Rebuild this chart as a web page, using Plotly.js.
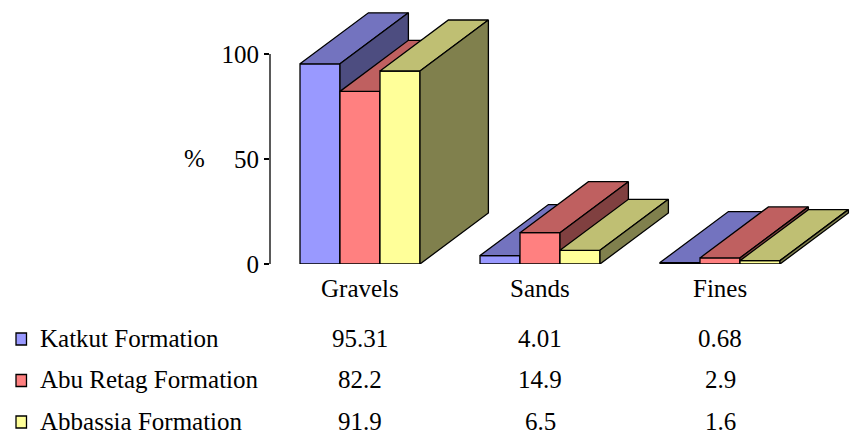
<!DOCTYPE html>
<html>
<head>
<meta charset="utf-8">
<script src="https://cdn.plot.ly/plotly-3.0.1.min.js"></script>
<style>
  html, body { margin: 0; padding: 0; background: #ffffff; }
  #chart { width: 851px; height: 436px; }
  #chart svg text { font-family: 'Liberation Serif', 'Times New Roman', serif !important; }
</style>
</head>
<body>
<div id="chart"></div>
<script>
// Grain-size composition (%) of three formations
const categories = ['Gravels', 'Sands', 'Fines'];
const seriesNames = ['Katkut Formation', 'Abu Retag Formation', 'Abbassia Formation'];
const katkut   = [95.31, 4.01, 0.68];
const abuRetag = [82.2, 14.9, 2.9];
const abbassia = [91.9, 6.5, 1.6];
const yTicks = [0, 50, 100];

const seriesValues = [katkut, abuRetag, abbassia];

// face colours: front, top, side (shaded)
const faceColors = [
  ['#9999ff', '#7373bf', '#4d4d80'],
  ['#ff8080', '#bf6060', '#804040'],
  ['#ffff99', '#bfbf73', '#80804d']
];

// pseudo-3D geometry in axis units
const BAR_W = 0.2222;       // width of one column
const GROUP_LEFT = -0.3333; // left edge of a cluster relative to category centre
const DEPTH_X = 0.38;       // receding offset along x
const DEPTH_Y = 24.3;       // receding offset along y

// plot area in pixels (one category = 180 px)
const M = { l: 270, r: 0, t: 2, b: 172 };
const PW = 851 - M.l - M.r, PH = 436 - M.t - M.b;
const CAT_PX = 180;
const YMAX = PH / 2.1;
const toPaperX = x => (x - M.l) / PW;
const toPaperY = y => (436 - M.b - y) / PH;

function textFont() {
  return { family: 'Liberation Serif', size: 25, color: '#000000' };
}

const traces = [];
function face(xs, ys, color) {
  traces.push({
    type: 'scatter', mode: 'lines', x: xs, y: ys,
    fill: 'toself', fillcolor: color,
    line: { color: '#000000', width: 1.3 },
    hoverinfo: 'skip', showlegend: false
  });
}

categories.forEach((cat, c) => {
  seriesValues.forEach((vals, s) => {
    const v = vals[c];
    const x0 = c + GROUP_LEFT + s * BAR_W;
    const x1 = x0 + BAR_W;
    const [fc, tc, sc] = faceColors[s];
    // front
    face([x0, x1, x1, x0, x0], [0, 0, v, v, 0], fc);
    // top
    face([x0, x1, x1 + DEPTH_X, x0 + DEPTH_X, x0], [v, v, v + DEPTH_Y, v + DEPTH_Y, v], tc);
    // side
    face([x1, x1 + DEPTH_X, x1 + DEPTH_X, x1, x1], [0, DEPTH_Y, v + DEPTH_Y, v, 0], sc);
  });
});

const annotations = [];
const shapes = [];

// value axis line, 0..100
shapes.push({ type: 'line', xref: 'paper', yref: 'y', x0: 0, x1: 0, y0: 0, y1: 100,
  line: { color: '#000000', width: 1.3 } });

// "%" axis label
annotations.push({ xref: 'paper', yref: 'paper', x: toPaperX(194), y: toPaperY(158),
  text: '%', showarrow: false, xanchor: 'center', yanchor: 'middle', font: textFont() });

// category labels
categories.forEach((cat, c) => {
  annotations.push({ xref: 'x', yref: 'paper', x: c, y: toPaperY(288),
    text: cat, showarrow: false, xanchor: 'center', yanchor: 'middle', font: textFont() });
});

// data table with legend keys
const rowCenters = [338, 379.5, 421];
seriesNames.forEach((name, s) => {
  const yc = rowCenters[s];
  shapes.push({ type: 'rect', xref: 'paper', yref: 'paper',
    x0: toPaperX(16), x1: toPaperX(26.5), y0: toPaperY(yc - 5), y1: toPaperY(yc + 7),
    fillcolor: faceColors[s][0], line: { color: '#000000', width: 1.3 } });
  annotations.push({ xref: 'paper', yref: 'paper', x: toPaperX(38), y: toPaperY(yc),
    text: name, showarrow: false, xanchor: 'left', yanchor: 'middle', font: textFont() });
  seriesValues[s].forEach((v, c) => {
    annotations.push({ xref: 'x', yref: 'paper', x: c, y: toPaperY(yc),
      text: String(v), showarrow: false, xanchor: 'center', yanchor: 'middle', font: textFont() });
  });
});

const layout = {
  width: 851, height: 436,
  margin: M,
  font: textFont(),
  paper_bgcolor: '#ffffff', plot_bgcolor: '#ffffff',
  showlegend: false,
  xaxis: { range: [-0.5, -0.5 + PW / CAT_PX], visible: false, fixedrange: true },
  yaxis: {
    range: [0, YMAX], tickvals: yTicks, ticktext: yTicks.map(String),
    showgrid: false, zeroline: false, showline: false,
    ticks: 'outside', ticklen: 5, tickwidth: 1.3, tickcolor: '#000000',
    tickfont: textFont(),
    fixedrange: true
  },
  shapes: shapes,
  annotations: annotations
};

Plotly.newPlot('chart', traces, layout, { displayModeBar: false, staticPlot: true });
</script>
</body>
</html>
